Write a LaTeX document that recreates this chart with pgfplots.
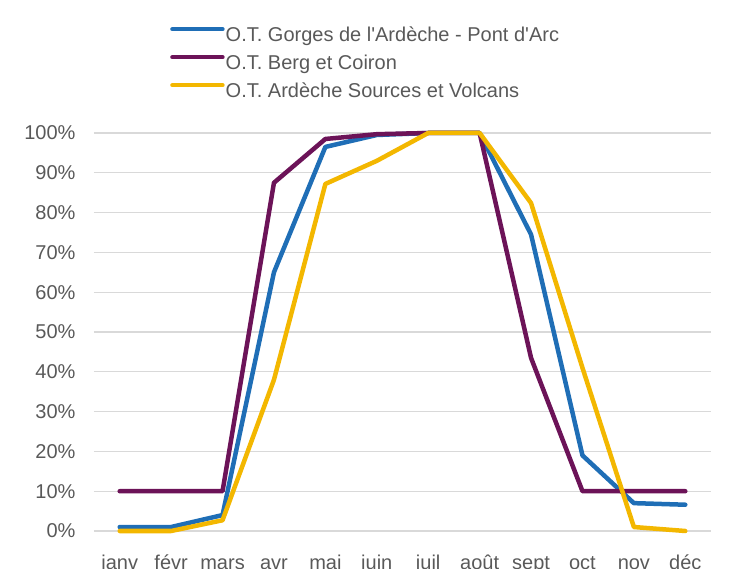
\documentclass[border=0pt]{standalone}
\usepackage{pgfplots}
\pgfplotsset{compat=1.18}
\usepackage{fontspec}
\setmainfont{Liberation Sans}
\definecolor{cblue}{HTML}{1F6EB6}
\definecolor{cpurple}{HTML}{6C1358}
\definecolor{cyellow}{HTML}{F3B700}
\definecolor{cgrid}{HTML}{D9D9D9}
\definecolor{ctext}{HTML}{595959}
\begin{document}
\begin{tikzpicture}
\useasboundingbox (-94bp,-38bp) rectangle (640bp,531bp);
\clip (-94bp,-38bp) rectangle (640bp,531bp);
\begin{axis}[
 at={(0,0)}, anchor=south west, scale only axis, width=617bp, height=398bp,
 xmin=-0.5, xmax=11.5, ymin=0, ymax=100,
 xtick={0,...,11},
 xticklabels={janv,févr,mars,avr,mai,juin,juil,août,sept,oct,nov,déc},
 ytick={0,10,...,100},
 yticklabels={0\%,10\%,20\%,30\%,40\%,50\%,60\%,70\%,80\%,90\%,100\%},
 axis line style={draw=none}, major tick style={draw=none},
 ymajorgrids, grid style={cgrid, line width=1.3bp},
 clip=false,
 ticklabel style={font=\fontsize{20bp}{22bp}\selectfont, text=ctext},
 xticklabel style={anchor=base, yshift=-38bp},
 yticklabel style={anchor=east, xshift=-15bp},
 legend cell align=left,
 legend image code/.code={\draw[#1, line width=4.5bp, line cap=round] (0bp,7bp) -- (50bp,7bp);},
 legend style={at={(0.1232,1.2688)}, anchor=north west, draw=none, fill=none,
   inner sep=0pt, row sep=8bp,
   font=\fontsize{20bp}{22bp}\selectfont, text=ctext,
   nodes={inner xsep=1bp, inner ysep=0pt, text height=15bp, text depth=5bp}},
 every axis plot/.append style={line width=4.5bp, line join=round, line cap=round},
]
\addplot[cblue] coordinates {(0,1) (1,1) (2,4) (3,65) (4,96.5) (5,99.5) (6,100) (7,100) (8,74.5) (9,19) (10,7) (11,6.6)};
\addlegendentry{O.T. Gorges de l\textquotesingle Ardèche - Pont d\textquotesingle Arc}
\addplot[cpurple] coordinates {(0,10) (1,10) (2,10) (3,87.5) (4,98.5) (5,99.7) (6,100) (7,100) (8,43.5) (9,10) (10,10) (11,10)};
\addlegendentry{O.T. Berg et Coiron}
\addplot[cyellow] coordinates {(0,0) (1,0) (2,2.7) (3,38) (4,87.2) (5,93) (6,100) (7,100) (8,82.4) (9,41) (10,1) (11,0)};
\addlegendentry{O.T. Ardèche Sources et Volcans}
\end{axis}
\end{tikzpicture}
\end{document}
